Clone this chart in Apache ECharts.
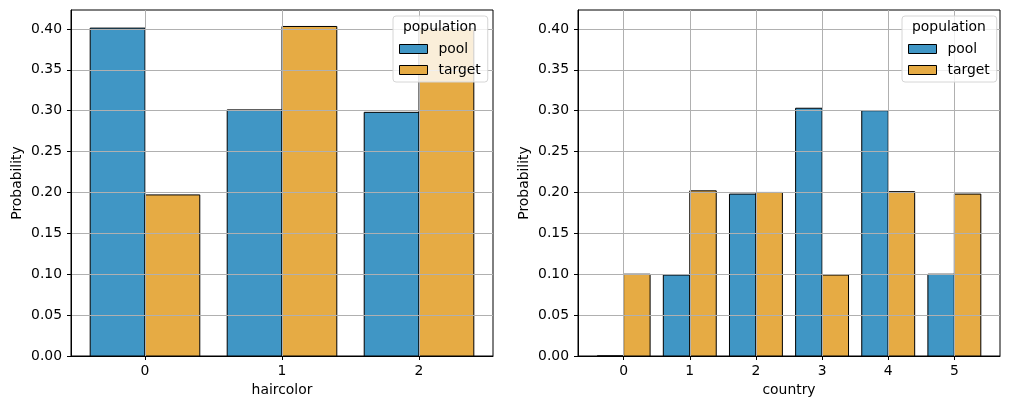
<!DOCTYPE html>
<html>
<head>
<meta charset="utf-8">
<script src="https://cdn.jsdelivr.net/npm/echarts@6/dist/echarts.min.js"></script>
<style>
html,body{margin:0;padding:0;background:#fff;}
#chart{width:1010px;height:409px;}
</style>
</head>
<body>
<div id="chart"></div>
<script>
// ---- data ----
const hueName = 'population';
const hueLevels = ['pool', 'target'];
const haircolorCats = [0, 1, 2];
const haircolorPool = [0.401, 0.301, 0.298];
const haircolorTarget = [0.197, 0.403, 0.400];
const countryCats = [0, 1, 2, 3, 4, 5];
const countryPool = [0.000, 0.099, 0.198, 0.303, 0.300, 0.100];
const countryTarget = [0.100, 0.202, 0.200, 0.099, 0.201, 0.198];
const yTicks = [0, 0.05, 0.10, 0.15, 0.20, 0.25, 0.30, 0.35, 0.40];
const xNames = ['haircolor', 'country'];
const yName = 'Probability';

// ---- style ----
const FONT = 'DejaVu Sans';
const FS = 13.9;
const poolColor = '#4096c5';
const targetColor = '#e6ab44';
const edgeColor = '#000';
const gridColor = '#b0b0b0';
const shrink = 0.8;
const half = shrink / 2;

const allVals = haircolorPool.concat(haircolorTarget, countryPool, countryTarget);
const yMax = Math.max.apply(null, allVals) * 1.05;

function xExtent(cats) {
  const lo = cats[0] - half, hi = cats[cats.length - 1] + half;
  const m = (hi - lo) * 0.05;
  return [lo - m, hi + m];
}

const panels = [
  {cats: haircolorCats, pool: haircolorPool, target: haircolorTarget, left: 71, legendLeft: 393},
  {cats: countryCats, pool: countryPool, target: countryTarget, left: 578, legendLeft: 902}
];

const grids = [], xAxes = [], yAxes = [], series = [], legends = [], graphics = [];

panels.forEach((p, i) => {
  grids.push({left: p.left, top: 10, width: 422, height: 346, show: true,
    borderColor: '#000', borderWidth: 1, backgroundColor: 'transparent', containLabel: false});
  const ext = xExtent(p.cats);
  xAxes.push({
    gridIndex: i, type: 'value', min: ext[0], max: ext[1], z: 3,
    name: xNames[i], nameLocation: 'middle', nameGap: 27,
    nameTextStyle: {fontFamily: FONT, fontSize: FS, color: '#000'},
    axisLine: {show: true, onZero: false, lineStyle: {color: '#000', width: 1}},
    axisTick: {show: true, length: 4, lineStyle: {color: '#000', width: 1}, customValues: p.cats},
    axisLabel: {fontFamily: FONT, fontSize: FS, color: '#000', margin: 8, customValues: p.cats,
      formatter: v => String(v)},
    splitLine: {show: true, lineStyle: {color: gridColor, width: 1}}
  });
  yAxes.push({
    gridIndex: i, type: 'value', min: 0, max: yMax, z: 3,
    name: yName, nameLocation: 'middle', nameGap: 47,
    nameTextStyle: {fontFamily: FONT, fontSize: FS, color: '#000'},
    axisLine: {show: true, onZero: false, lineStyle: {color: '#000', width: 1}},
    axisTick: {show: true, length: 4, lineStyle: {color: '#000', width: 1}, customValues: yTicks},
    axisLabel: {fontFamily: FONT, fontSize: FS, color: '#000', margin: 9, customValues: yTicks,
      formatter: v => v.toFixed(2)},
    splitLine: {show: true, lineStyle: {color: gridColor, width: 1}}
  });
  [[hueLevels[0], p.pool, poolColor, -half], [hueLevels[1], p.target, targetColor, 0]].forEach(s => {
    const offset = s[3];
    series.push({
      type: 'custom', name: s[0], xAxisIndex: i, yAxisIndex: i, z: 2,
      itemStyle: {color: s[2], borderColor: edgeColor, borderWidth: 1},
      data: p.cats.map((c, k) => [c, s[1][k]]),
      renderItem: function (params, api) {
        const c = api.value(0), v = api.value(1);
        const tl = api.coord([c + offset, v]);
        const br = api.coord([c + offset + half, 0]);
        return {
          type: 'rect',
          shape: {x: tl[0], y: tl[1], width: br[0] - tl[0], height: br[1] - tl[1]},
          style: {fill: s[2], stroke: edgeColor, lineWidth: 1}
        };
      }
    });
  });
  legends.push({
    orient: 'vertical', left: p.legendLeft, top: 16,
    padding: [26, 7, 5, 6], itemGap: 7, itemWidth: 28, itemHeight: 9,
    backgroundColor: 'rgba(255,255,255,0.8)', borderColor: '#d6d6d6', borderWidth: 1, borderRadius: 3,
    icon: 'rect', z: 5,
    textStyle: {fontFamily: FONT, fontSize: FS, color: '#000', padding: [0, 0, 0, 6]},
    data: hueLevels.map((h, k) => ({name: h, itemStyle: {color: k === 0 ? poolColor : targetColor,
      borderColor: edgeColor, borderWidth: 1}})),
    seriesIndex: [2 * i, 2 * i + 1]
  });
  graphics.push({
    type: 'text', z: 10, left: p.legendLeft + 10, top: 20,
    style: {text: hueName, fontFamily: FONT, fontSize: FS, fill: '#000'}
  });
});

const chart = echarts.init(document.getElementById('chart'), null, {renderer: 'canvas'});
chart.setOption({
  animation: false,
  backgroundColor: '#fff',
  grid: grids, xAxis: xAxes, yAxis: yAxes, series: series, legend: legends, graphic: graphics
});
</script>
</body>
</html>
